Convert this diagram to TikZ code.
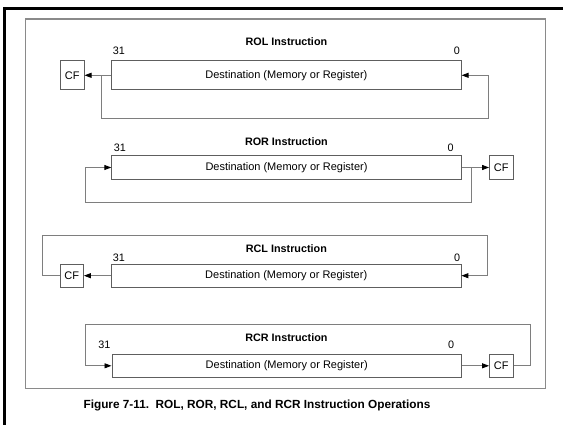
\documentclass[tikz,border=0pt]{standalone}
\usepackage{fontspec}
\setmainfont{Liberation Sans}
\usetikzlibrary{arrows.meta}
\definecolor{boxgray}{HTML}{5E5E5E}
\definecolor{linegray}{HTML}{7E7E7E}
\definecolor{framegray}{HTML}{8A8A8A}
\begin{document}
\begin{tikzpicture}[x=1pt,y=-1pt,
  regbox/.style={draw=boxgray, line width=0.9pt, inner sep=0pt, minimum width=349.5pt,
    font=\fontsize{11}{12}\selectfont},
  cfbox/.style={draw=boxgray, line width=0.9pt, inner sep=0pt, minimum width=23.5pt,
    font=\fontsize{11}{12}\selectfont},
  flow/.style={draw=linegray, line width=0.9pt, -{Triangle[length=7pt,width=5pt,black]}},
  title/.style={font=\bfseries\fontsize{10.8}{12}\selectfont},
  bitno/.style={font=\fontsize{10.8}{12}\selectfont},
  caption/.style={font=\bfseries\fontsize{11.8}{13}\selectfont}
]
\useasboundingbox (0,0) rectangle (563,425);
% page edge rules
\fill[black] (3.3,7.3) rectangle (563,10);
\fill[black] (3.3,7.3) rectangle (6,425);
% figure frame
\draw[framegray, line width=1.5pt] (25.7,19) rectangle (545.7,388.3);

% ROL
\node[title] (rolT) at (286.4,42) {ROL Instruction};
\node[bitno] (rol31) at (119,51) {31};
\node[bitno] (rol0) at (457,51) {0};
\node[regbox, minimum height=29.3pt] (rolD) at (286.4,75.3) {Destination (Memory or Register)};
\node[cfbox, minimum height=29.3pt] (rolC) at (72.3,75.3) {CF};
\coordinate (rolL) at (101.7,75.3);
\coordinate (rolB) at (488.3,118.5);
\draw[flow] (rolD.west) -- (rolC.east);
\draw[flow] (rolL) |- (rolB) |- (rolD.east);

% ROR
\node[title] (rorT) at (286.4,142) {ROR Instruction};
\node[bitno] (ror31) at (120,148) {31};
\node[bitno] (ror0) at (450.7,148) {0};
\node[regbox, minimum height=23.6pt] (rorD) at (286.5,167.5) {Destination (Memory or Register)};
\node[cfbox, minimum height=23.6pt] (rorC) at (501.3,167.5) {CF};
\coordinate (rorR) at (471.7,167.5);
\coordinate (rorB) at (85.7,202.3);
\draw[flow] (rorD.east) -- (rorC.west);
\draw[flow] (rorR) |- (rorB) |- (rorD.west);

% RCL
\node[title] (rclT) at (286.4,249) {RCL Instruction};
\node[bitno] (rcl31) at (119,257.3) {31};
\node[bitno] (rcl0) at (457.2,257.3) {0};
\node[regbox, minimum height=23.3pt] (rclD) at (286.2,275.7) {Destination (Memory or Register)};
\node[cfbox, minimum height=23.3pt] (rclC) at (71.7,275.7) {CF};
\coordinate (rclTL) at (42.7,235.7);
\coordinate (rclTR) at (487.5,235.7);
\draw[flow] (rclD.west) -- (rclC.east);
\draw[flow] (rclC.west) -| (rclTL) -- (rclTR) |- (rclD.east);

% RCR
\node[title] (rcrT) at (286.4,338) {RCR Instruction};
\node[bitno] (rcr31) at (104.5,345) {31};
\node[bitno] (rcr0) at (451,345) {0};
\node[regbox, minimum height=23.7pt] (rcrD) at (286.7,365.8) {Destination (Memory or Register)};
\node[cfbox, minimum height=23.7pt] (rcrC) at (501.3,365.8) {CF};
\coordinate (rcrTR) at (530,324);
\coordinate (rcrTL) at (85.3,324);
\draw[flow] (rcrD.east) -- (rcrC.west);
\draw[flow] (rcrC.east) -| (rcrTR) -- (rcrTL) |- (rcrD.west);

% caption
\node[caption] (cap) at (257,405) {Figure 7-11.\ \ ROL, ROR, RCL, and RCR Instruction Operations};
\end{tikzpicture}
\end{document}
